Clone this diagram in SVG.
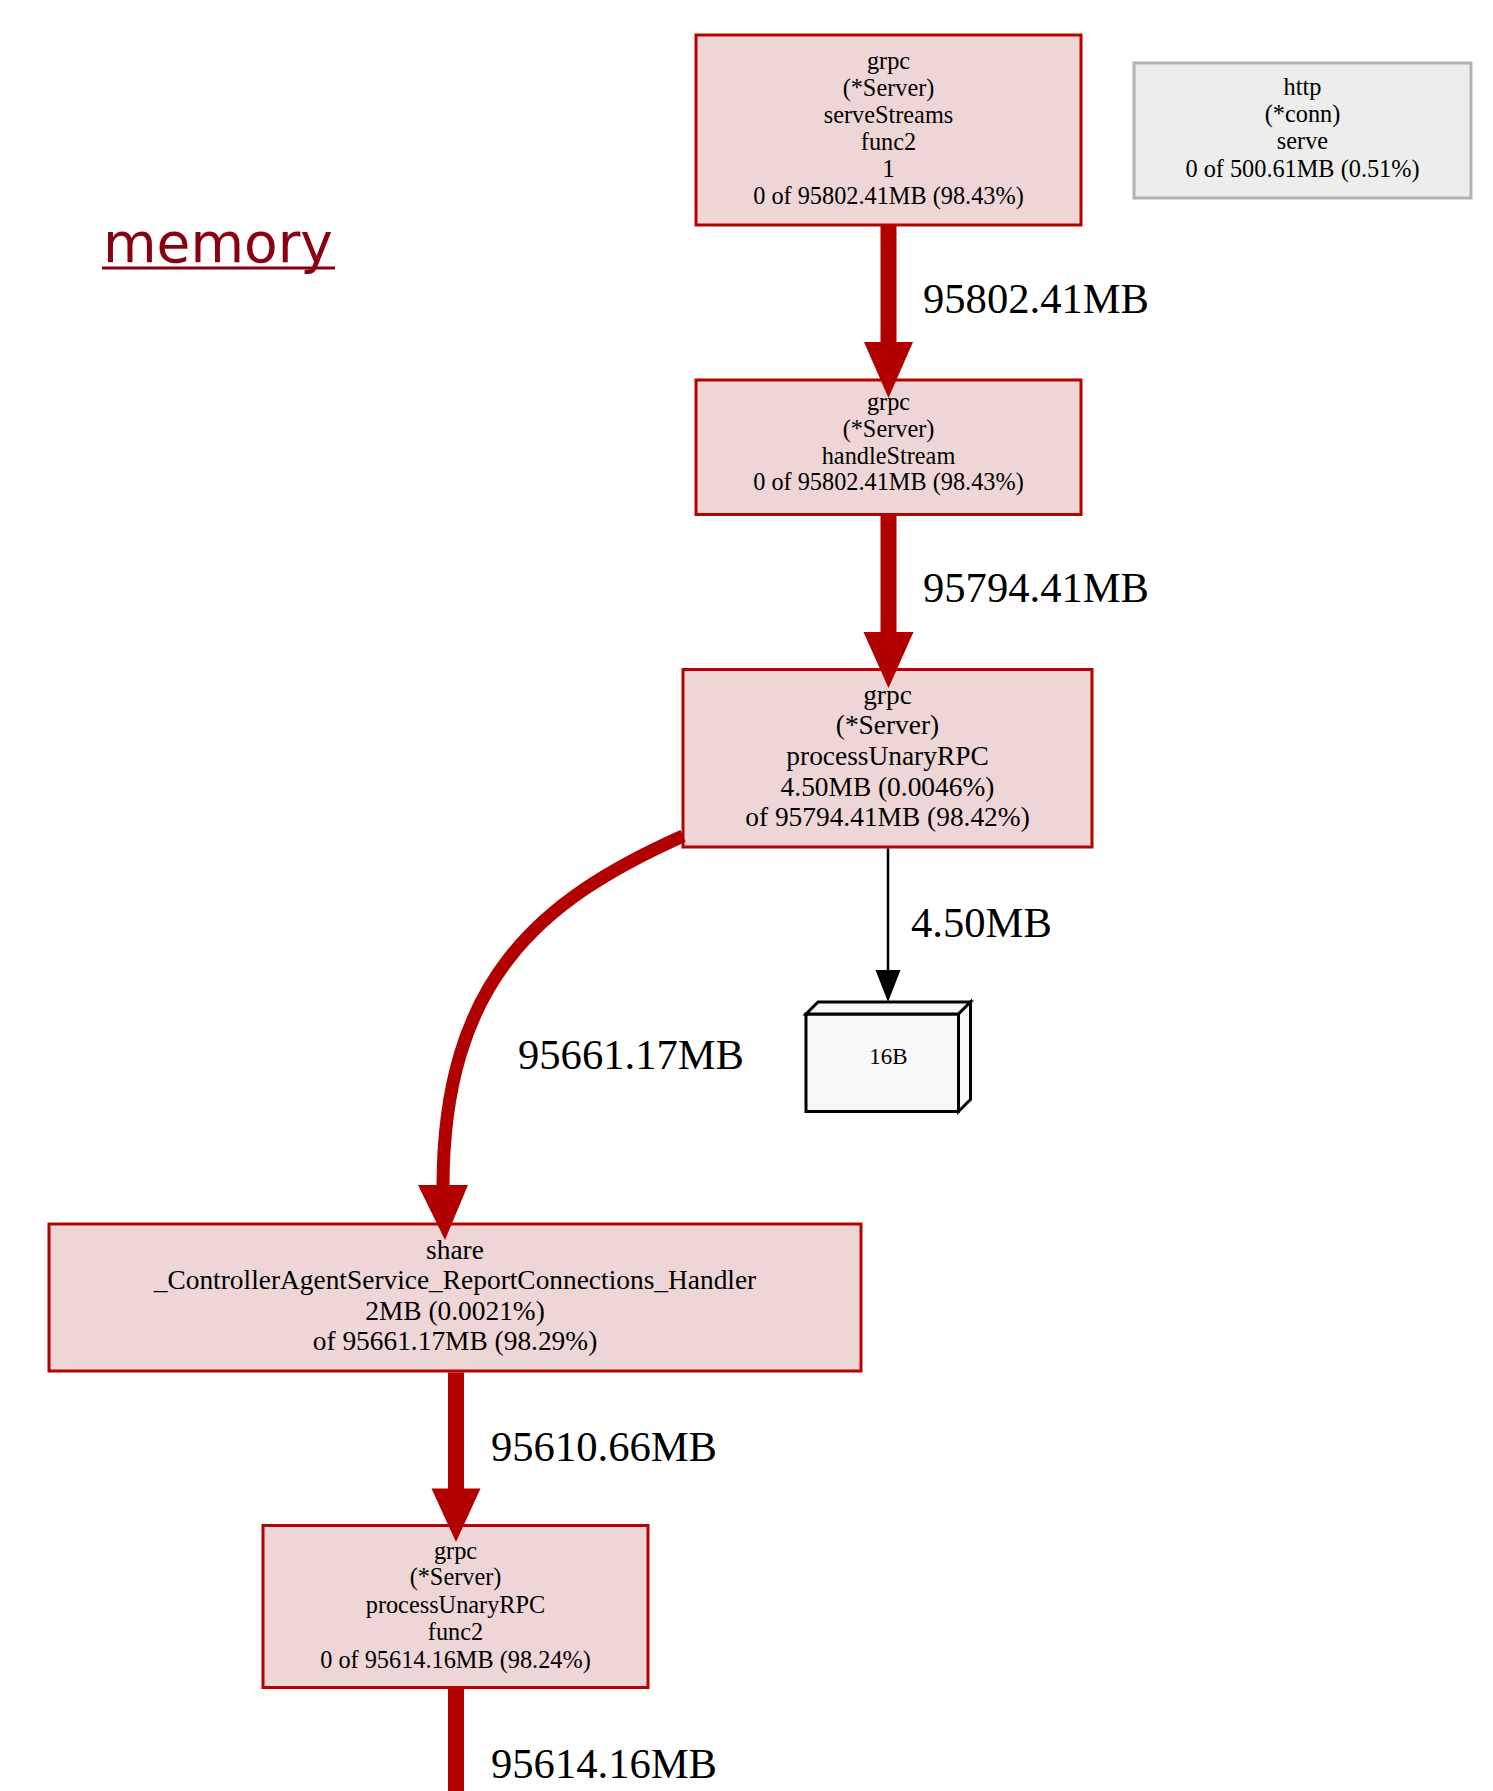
<svg xmlns="http://www.w3.org/2000/svg" width="1493" height="1791" viewBox="0 0 1493 1791">
<style>
.n rect{fill:#edd6d5;stroke:#b20400;stroke-width:3}
.t{font-family:"Liberation Serif","Times New Roman",serif;text-anchor:middle;fill:#000}
.s24{font-size:24.3px}
.s27{font-size:27.4px}
.el{font-family:"Liberation Serif","Times New Roman",serif;font-size:42.6px;fill:#000}
.e{stroke:#b20000;stroke-width:16;fill:none}
.ah{fill:#b20000}
</style>
<rect x="0" y="0" width="1493" height="1791" fill="#ffffff"/>
<g id="title">
<text x="103" y="262" font-family="DejaVu Sans, sans-serif" font-size="55" fill="#8b0010">memory</text>
<line x1="102" y1="268" x2="335" y2="268" stroke="#8b0010" stroke-width="3"/>
</g>
<g id="n1" class="n">
<rect x="696" y="35" width="385" height="190"/>
<text class="t s24" x="888.5" y="69">grpc</text>
<text class="t s24" x="888.5" y="96">(*Server)</text>
<text class="t s24" x="888.5" y="123">serveStreams</text>
<text class="t s24" x="888.5" y="150">func2</text>
<text class="t s24" x="888.5" y="177">1</text>
<text class="t s24" x="888.5" y="204">0 of 95802.41MB (98.43%)</text>
</g>
<g id="http">
<rect x="1134" y="63" width="337" height="135" fill="#ededec" stroke="#b2b2b2" stroke-width="3"/>
<text class="t s24" x="1302.5" y="95">http</text>
<text class="t s24" x="1302.5" y="122">(*conn)</text>
<text class="t s24" x="1302.5" y="149">serve</text>
<text class="t s24" x="1302.5" y="176.5">0 of 500.61MB (0.51%)</text>
</g>
<g id="n2" class="n">
<rect x="696" y="380" width="385" height="134.5"/>
<text class="t s24" x="888.5" y="410">grpc</text>
<text class="t s24" x="888.5" y="437">(*Server)</text>
<text class="t s24" x="888.5" y="463.5">handleStream</text>
<text class="t s24" x="888.5" y="490">0 of 95802.41MB (98.43%)</text>
</g>
<g id="n3" class="n">
<rect x="683" y="669.5" width="409" height="177.5"/>
<text class="t s27" x="887.5" y="704">grpc</text>
<text class="t s27" x="887.5" y="734">(*Server)</text>
<text class="t s27" x="887.5" y="765">processUnaryRPC</text>
<text class="t s27" x="887.5" y="795.5">4.50MB (0.0046%)</text>
<text class="t s27" x="887.5" y="826">of 95794.41MB (98.42%)</text>
</g>
<g id="n16b">
<rect x="806" y="1014" width="152.5" height="97.5" fill="#f8f8f8" stroke="#000" stroke-width="3"/>
<polygon points="806,1014 818,1002 970.5,1002 958.5,1014" fill="#f8f8f8" stroke="#000" stroke-width="3"/>
<polygon points="958.5,1014 970.5,1002 970.5,1099.5 958.5,1111.5" fill="#f8f8f8" stroke="#000" stroke-width="3"/>
<text class="t" x="888.5" y="1064" font-size="23">16B</text>
</g>
<g id="n4" class="n">
<rect x="49" y="1224" width="812" height="147"/>
<text class="t s27" x="455" y="1259">share</text>
<text class="t s27" x="455" y="1289">_ControllerAgentService_ReportConnections_Handler</text>
<text class="t s27" x="455" y="1319.5">2MB (0.0021%)</text>
<text class="t s27" x="455" y="1350">of 95661.17MB (98.29%)</text>
</g>
<g id="n5" class="n">
<rect x="263" y="1525.5" width="385" height="162"/>
<text class="t s24" x="455.5" y="1558.5">grpc</text>
<text class="t s24" x="455.5" y="1585">(*Server)</text>
<text class="t s24" x="455.5" y="1613">processUnaryRPC</text>
<text class="t s24" x="455.5" y="1639.5">func2</text>
<text class="t s24" x="455.5" y="1667.5">0 of 95614.16MB (98.24%)</text>
</g>
<g id="connectors">
<g id="e1"><line class="e" x1="888.5" y1="226" x2="888.5" y2="343"/><polygon class="ah" points="864,342 913,342 888.5,398"/></g>
<g id="e2"><line class="e" x1="888.5" y1="516" x2="888.5" y2="633"/><polygon class="ah" points="863.5,632 913.5,632 888.5,688"/></g>
<g id="e3"><line x1="888" y1="848.5" x2="888" y2="972" stroke="#000" stroke-width="2.5"/><polygon fill="#000" points="875.5,970 900.5,970 888,1002"/></g>
<g id="e4"><path d="M683,836 C540,900 443,980 443,1187" stroke="#b20000" stroke-width="13" fill="none"/><polygon class="ah" points="418,1185 468,1185 445,1240"/></g>
<g id="e5"><line class="e" x1="456" y1="1372.5" x2="456" y2="1490"/><polygon class="ah" points="431.5,1488.5 480.5,1488.5 456,1542"/></g>
<g id="e6"><line class="e" x1="456" y1="1689" x2="456" y2="1791"/></g>
<text class="el" x="923" y="313">95802.41MB</text>
<text class="el" x="923" y="602">95794.41MB</text>
<text class="el" x="911" y="936.5">4.50MB</text>
<text class="el" x="518" y="1068.5">95661.17MB</text>
<text class="el" x="491" y="1461">95610.66MB</text>
<text class="el" x="491" y="1777.5">95614.16MB</text>
</g>
</svg>
